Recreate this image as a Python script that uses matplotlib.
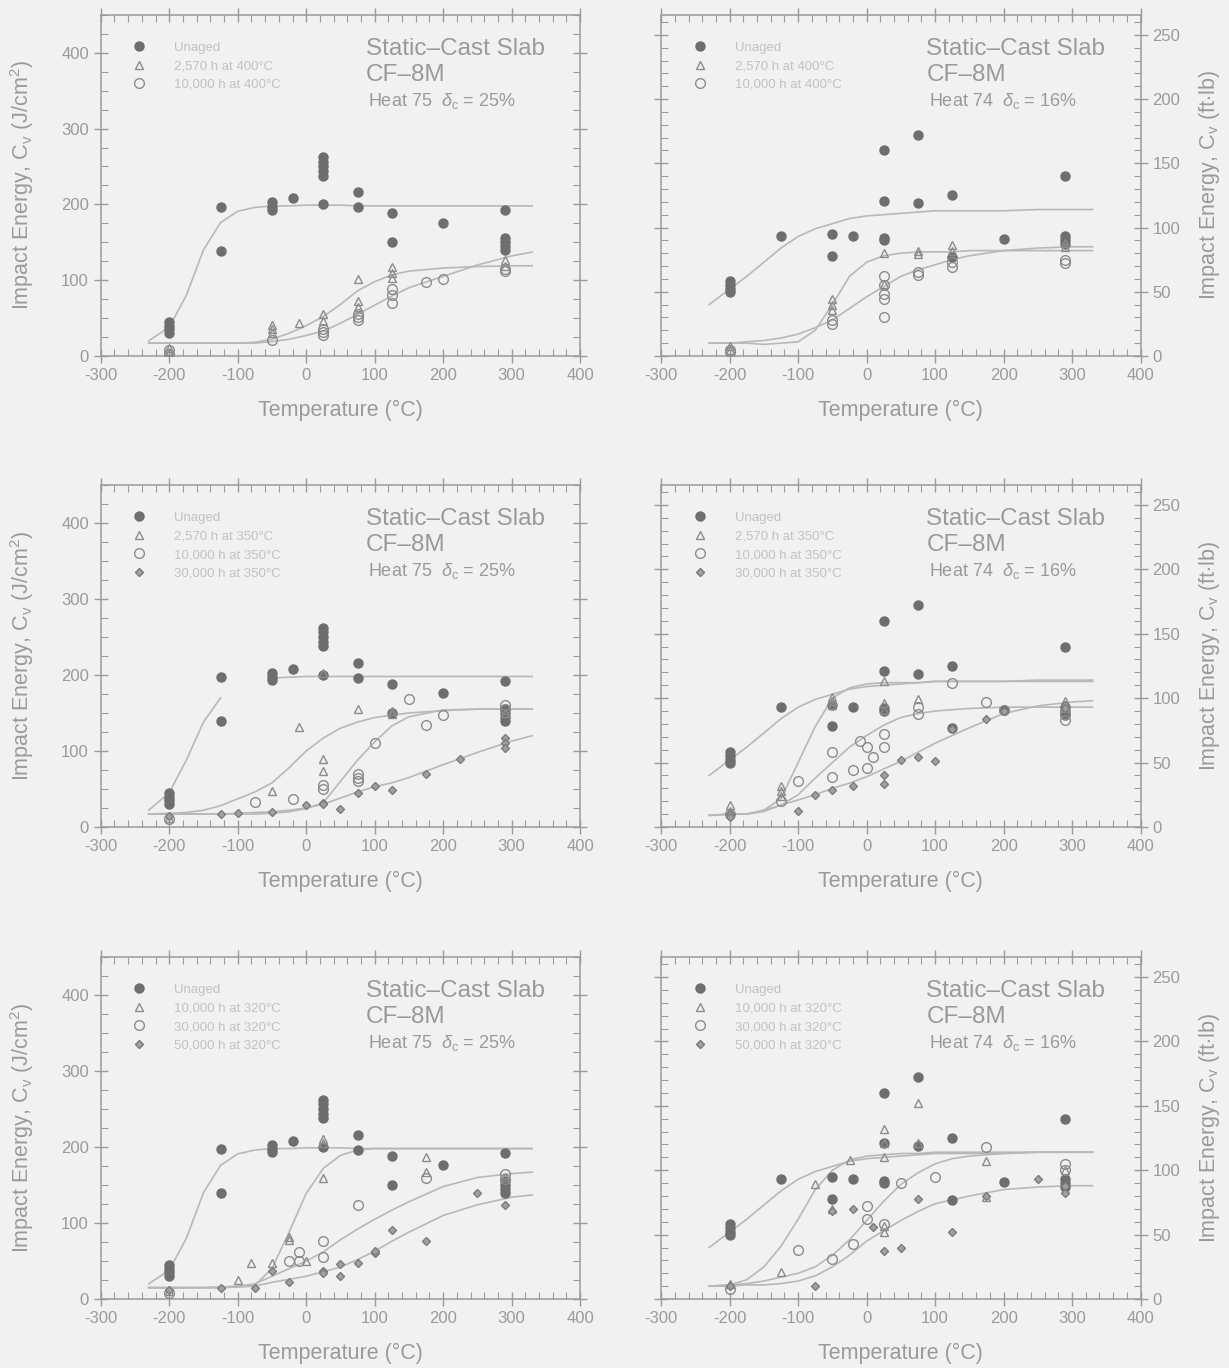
import numpy as np
import matplotlib
matplotlib.use('Agg')
import matplotlib.pyplot as plt
from matplotlib.ticker import MultipleLocator

plt.rcParams['font.family'] = ['Liberation Sans', 'DejaVu Sans']
plt.rcParams['axes.unicode_minus'] = False
plt.rcParams['mathtext.fontset'] = 'custom'
plt.rcParams['mathtext.rm'] = 'Liberation Sans'
plt.rcParams['mathtext.it'] = 'Liberation Sans:italic'

nan = np.nan

# ---- measured Charpy points ----
# Heat 75 in J/cm2, Heat 74 in ft-lb
H75_UNAGED_T = [-200, -200, -200, -200, -125, -125, -50, -50, -50, -20,
                25, 25, 25, 25, 25, 25, 75, 75, 125, 125, 200,
                290, 290, 290, 290, 290]
H75_UNAGED_V = [45, 40, 35, 30, 197, 139, 203, 197, 193, 208,
                262, 256, 250, 244, 238, 200, 216, 196, 188, 150, 176,
                192, 155, 150, 145, 140]

H74_UNAGED_T = [-200, -200, -200, -200, -125, -50, -50, -20,
                25, 25, 25, 25, 75, 75, 125, 125, 200,
                290, 290, 290, 290]
H74_UNAGED_V = [58, 55, 52, 50, 93, 95, 78, 93,
                160, 121, 92, 90, 172, 119, 125, 77, 91,
                140, 93, 90, 87]

# aged at 400 C
H75_400_2570_T = [-200, -200, -50, -50, -50, -10, 25, 25, 75, 75, 75, 125, 125, 125, 290, 290]
H75_400_2570_V = [10, 5, 41, 35, 30, 43, 56, 46, 101, 72, 65, 118, 110, 103, 127, 119]
H75_400_10000_T = [-200, -200, -50, 25, 25, 25, 75, 75, 75, 125, 125, 125, 175, 200, 290, 290]
H75_400_10000_V = [8, 3, 21, 36, 31, 28, 56, 51, 48, 88, 80, 70, 97, 101, 115, 112]

H74_400_2570_T = [-200, -200, -50, -50, -50, 25, 25, 75, 75, 125, 125, 290, 290]
H74_400_2570_V = [8, 5, 44, 40, 36, 80, 56, 82, 79, 86, 82, 88, 85]
H74_400_10000_T = [-200, -200, -50, -50, 25, 25, 25, 25, 25, 75, 75, 125, 125, 290, 290]
H74_400_10000_V = [5, 3, 28, 25, 62, 55, 48, 44, 30, 65, 63, 73, 69, 75, 72]

# aged at 350 C
H75_350_2570_T = [-200, -50, -10, 25, 25, 25, 75, 125, 125, 290]
H75_350_2570_V = [12, 47, 131, 202, 89, 73, 155, 152, 148, 150]
H75_350_10000_T = [-200, -75, -20, 25, 25, 75, 75, 75, 100, 150, 175, 200, 290, 290]
H75_350_10000_V = [10, 33, 37, 55, 50, 70, 65, 60, 111, 169, 134, 147, 160, 155]
H75_350_30000_T = [-200, -125, -100, -50, 0, 25, 25, 50, 75, 100, 125, 175, 225, 290, 290, 290]
H75_350_30000_V = [15, 17, 18, 20, 29, 32, 30, 23, 45, 54, 48, 70, 90, 117, 110, 104]

H74_350_2570_T = [-200, -200, -125, -125, -125, -50, -50, -50, 25, 25, 25, 75, 290, 290, 290]
H74_350_2570_V = [17, 12, 32, 28, 24, 101, 98, 95, 113, 96, 91, 99, 98, 95, 92]
H74_350_10000_T = [-200, -125, -100, -50, -50, -20, -10, 0, 0, 10, 25, 25, 75, 75, 125, 175, 200, 290, 290]
H74_350_10000_V = [10, 20, 36, 58, 39, 44, 67, 62, 46, 54, 72, 62, 93, 88, 112, 97, 91, 88, 83]
H74_350_30000_T = [-200, -200, -100, -75, -50, -20, 25, 25, 50, 75, 100, 125, 175, 200, 290, 290]
H74_350_30000_V = [10, 8, 12, 25, 29, 32, 40, 33, 52, 54, 51, 76, 84, 90, 95, 92]

# aged at 320 C
H75_320_10000_T = [-200, -100, -80, -50, -25, -25, 0, 25, 25, 25, 175, 175, 290]
H75_320_10000_V = [10, 25, 47, 48, 82, 78, 50, 210, 205, 159, 187, 167, 160]
H75_320_30000_T = [-200, -25, -10, -10, 25, 25, 75, 175, 290, 290]
H75_320_30000_V = [8, 50, 62, 50, 76, 55, 124, 159, 165, 158]
H75_320_50000_T = [-200, -125, -75, -50, -25, 25, 25, 50, 50, 75, 100, 100, 125, 175, 250, 290]
H75_320_50000_V = [12, 15, 14, 37, 22, 37, 34, 46, 30, 48, 61, 63, 91, 76, 139, 124]

H74_320_10000_T = [-200, -125, -75, -50, -25, 25, 25, 25, 25, 25, 75, 75, 175, 175, 290]
H74_320_10000_V = [12, 21, 89, 70, 108, 132, 121, 110, 57, 52, 152, 121, 107, 79, 100]
H74_320_30000_T = [-200, -100, -50, -20, 0, 0, 25, 50, 100, 175, 290, 290]
H74_320_30000_V = [8, 38, 31, 43, 72, 62, 58, 90, 95, 118, 105, 100]
H74_320_50000_T = [-200, -75, -50, -20, 10, 25, 50, 75, 125, 175, 250, 290, 290]
H74_320_50000_V = [10, 10, 68, 70, 56, 37, 40, 78, 52, 80, 93, 88, 82]

CURVE_T = [-230, -200, -175, -150, -125, -100, -75, -50, -25, 0,
           25, 50, 75, 100, 125, 150, 200, 250, 300, 330]

FIT_H75_UNAGED = [20, 38, 80, 140, 176, 191, 196, 198, 198, 199,
                  199, 199, 198, 198, 198, 198, 198, 198, 198, 198]
FIT_H75_UNAGED_350 = [22, 45, 88, 138, 170, nan, nan, 196, 197, 198,
                      198, 198, 198, 198, 198, 198, 198, 198, 198, 198]
FIT_H74_UNAGED = [40, 52, 62, 73, 84, 93, 99, 103, 107, 109,
                  110, 111, 112, 113, 113, 113, 113, 114, 114, 114]

FIT_H75_400_2570 = [17, 17, 17, 17, 17, 17, 18, 22, 30, 40,
                    52, 68, 86, 98, 107, 112, 116, 118, 119, 119]
FIT_H75_400_10000 = [17, 17, 17, 17, 17, 17, 17, 19, 22, 27,
                     33, 43, 55, 67, 79, 90, 105, 120, 132, 137]
FIT_H74_400_2570 = [10, 10, 10, 9, 10, 11, 20, 40, 62, 73,
                    78, 80, 81, 81, 81, 82, 82, 82, 82, 82]
FIT_H74_400_10000 = [10, 10, 11, 12, 14, 17, 22, 28, 37, 46,
                     54, 62, 67, 71, 75, 78, 82, 84, 85, 85]

FIT_H75_350_2570 = [17, 18, 19, 22, 28, 37, 46, 58, 78, 100,
                    117, 130, 138, 144, 147, 150, 153, 155, 155, 155]
FIT_H75_350_10000 = [17, 17, 17, 17, 17, 17, 17, 18, 20, 24,
                     32, 60, 88, 112, 133, 145, 154, 155, 155, 155]
FIT_H75_350_30000 = [17, 17, 17, 17, 17, 18, 19, 20, 22, 25,
                     30, 38, 46, 53, 58, 65, 82, 98, 113, 120]
FIT_H74_350_2570 = [9, 10, 10, 13, 22, 50, 78, 100, 108, 111,
                    112, 112, 112, 113, 113, 113, 113, 113, 113, 113]
FIT_H74_350_10000 = [9, 10, 10, 12, 17, 25, 38, 50, 62, 71,
                     79, 85, 88, 90, 91, 92, 93, 93, 93, 93]
FIT_H74_350_30000 = [9, 10, 10, 13, 17, 21, 25, 30, 34, 39,
                     45, 51, 58, 65, 71, 77, 88, 94, 97, 98]

FIT_H75_320_10000 = [15, 15, 15, 15, 15, 16, 18, 40, 88, 139,
                     172, 189, 196, 198, 198, 198, 198, 198, 198, 198]
FIT_H75_320_30000 = [15, 15, 15, 15, 16, 17, 20, 30, 40, 50,
                     62, 78, 92, 105, 117, 128, 148, 160, 165, 167]
FIT_H75_320_50000 = [15, 15, 15, 15, 15, 16, 17, 22, 26, 30,
                     36, 42, 52, 63, 76, 88, 110, 124, 134, 137]
FIT_H74_320_10000 = [10, 11, 15, 25, 41, 62, 85, 100, 108, 111,
                     112, 113, 113, 114, 114, 114, 114, 114, 114, 114]
FIT_H74_320_30000 = [10, 11, 12, 14, 17, 20, 25, 34, 46, 61,
                     76, 89, 98, 105, 109, 111, 113, 114, 114, 114]
FIT_H74_320_50000 = [10, 10, 11, 11, 12, 14, 18, 25, 34, 45,
                     53, 61, 68, 74, 77, 80, 85, 87, 88, 88]

BG = '#f1f1f1'
INK = '#9a9a9a'
LINE = '#b8b8b8'

STYLE = {
    'unaged': dict(marker='o', ms=6.5, mfc='#6e6e6e', mec='#6e6e6e', mew=1),
    'tri': dict(marker='^', ms=6, mfc='none', mec='#8c8c8c', mew=1),
    'circ': dict(marker='o', ms=7, mfc='none', mec='#8c8c8c', mew=1),
    'diam': dict(marker='D', ms=4.5, mfc='#a0a0a0', mec='#7c7c7c', mew=1),
}


def draw_panel(ax, heat_text, series, fits, right=False):
    ax.set_facecolor(BG)
    for vals in fits:
        ax.plot(CURVE_T, vals, color=LINE, lw=1.2, zorder=2)
    for t, v, key, label in series:
        ax.plot(t, v, linestyle='none', label=label, zorder=3, **STYLE[key])

    ax.set_xlim(-300, 400)
    ax.xaxis.set_major_locator(MultipleLocator(100))
    ax.xaxis.set_minor_locator(MultipleLocator(20))
    if right:
        ax.set_ylim(0, 265.5)
        ax.yaxis.set_major_locator(MultipleLocator(50))
        ax.yaxis.set_minor_locator(MultipleLocator(10))
    else:
        ax.set_ylim(0, 450)
        ax.yaxis.set_major_locator(MultipleLocator(100))
        ax.yaxis.set_minor_locator(MultipleLocator(25))

    ax.tick_params(which='major', direction='inout', length=10, width=1,
                   color=INK, labelcolor=INK, labelsize=12,
                   top=True, right=True)
    ax.tick_params(which='minor', direction='in', length=5, width=0.8,
                   color=INK, top=True, right=True)
    for sp in ax.spines.values():
        sp.set_color(INK)
        sp.set_linewidth(1.1)

    ax.set_xlabel('Temperature (°C)', fontsize=15.5, color=INK, labelpad=12)
    if right:
        ax.tick_params(axis='y', which='both', labelleft=False, labelright=True)
        ax.yaxis.set_label_position('right')
        ax.set_ylabel(r'Impact Energy, C$_\mathrm{v}$ (ft$\cdot$lb)',
                      fontsize=15.5, color=INK, labelpad=12)
    else:
        ax.set_ylabel(r'Impact Energy, C$_\mathrm{v}$ (J/cm$^\mathrm{2}$)',
                      fontsize=15.5, color=INK, labelpad=18)

    ax.text(0.553, 0.90, 'Static–Cast Slab', transform=ax.transAxes,
            fontsize=17.5, color=INK, va='center')
    ax.text(0.553, 0.825, 'CF–8M', transform=ax.transAxes,
            fontsize=17.5, color=INK, va='center')
    ax.text(0.558, 0.748, heat_text, transform=ax.transAxes,
            fontsize=13, color=INK, va='center')

    ax.legend(loc='upper left', bbox_to_anchor=(0.067, 0.922), frameon=False,
              fontsize=9.5, labelcolor='#c2c2c2', handlelength=1.0,
              handletextpad=2.15, labelspacing=0.48, borderpad=0,
              borderaxespad=0)


fig = plt.figure(figsize=(12.29, 13.68), dpi=100, facecolor=BG)

LEFT_X, RIGHT_X, WIDTH = 0.082, 0.538, 0.390
ROWS = [(0.7398, 0.2493), (0.3955, 0.250), (0.0504, 0.250)]

HEAT75 = r'Heat 75  $\delta_\mathrm{c}$ = 25%'
HEAT74 = r'Heat 74  $\delta_\mathrm{c}$ = 16%'

# 400 C ageing
ax = fig.add_axes([LEFT_X, ROWS[0][0], WIDTH, ROWS[0][1]])
draw_panel(ax, HEAT75, [
    (H75_UNAGED_T, H75_UNAGED_V, 'unaged', 'Unaged'),
    (H75_400_2570_T, H75_400_2570_V, 'tri', '2,570 h at 400°C'),
    (H75_400_10000_T, H75_400_10000_V, 'circ', '10,000 h at 400°C'),
], [FIT_H75_UNAGED, FIT_H75_400_2570, FIT_H75_400_10000])

ax = fig.add_axes([RIGHT_X, ROWS[0][0], WIDTH, ROWS[0][1]])
draw_panel(ax, HEAT74, [
    (H74_UNAGED_T, H74_UNAGED_V, 'unaged', 'Unaged'),
    (H74_400_2570_T, H74_400_2570_V, 'tri', '2,570 h at 400°C'),
    (H74_400_10000_T, H74_400_10000_V, 'circ', '10,000 h at 400°C'),
], [FIT_H74_UNAGED, FIT_H74_400_2570, FIT_H74_400_10000], right=True)

# 350 C ageing
ax = fig.add_axes([LEFT_X, ROWS[1][0], WIDTH, ROWS[1][1]])
draw_panel(ax, HEAT75, [
    (H75_UNAGED_T, H75_UNAGED_V, 'unaged', 'Unaged'),
    (H75_350_2570_T, H75_350_2570_V, 'tri', '2,570 h at 350°C'),
    (H75_350_10000_T, H75_350_10000_V, 'circ', '10,000 h at 350°C'),
    (H75_350_30000_T, H75_350_30000_V, 'diam', '30,000 h at 350°C'),
], [FIT_H75_UNAGED_350, FIT_H75_350_2570, FIT_H75_350_10000, FIT_H75_350_30000])

ax = fig.add_axes([RIGHT_X, ROWS[1][0], WIDTH, ROWS[1][1]])
draw_panel(ax, HEAT74, [
    (H74_UNAGED_T, H74_UNAGED_V, 'unaged', 'Unaged'),
    (H74_350_2570_T, H74_350_2570_V, 'tri', '2,570 h at 350°C'),
    (H74_350_10000_T, H74_350_10000_V, 'circ', '10,000 h at 350°C'),
    (H74_350_30000_T, H74_350_30000_V, 'diam', '30,000 h at 350°C'),
], [FIT_H74_UNAGED, FIT_H74_350_2570, FIT_H74_350_10000, FIT_H74_350_30000], right=True)

# 320 C ageing
ax = fig.add_axes([LEFT_X, ROWS[2][0], WIDTH, ROWS[2][1]])
draw_panel(ax, HEAT75, [
    (H75_UNAGED_T, H75_UNAGED_V, 'unaged', 'Unaged'),
    (H75_320_10000_T, H75_320_10000_V, 'tri', '10,000 h at 320°C'),
    (H75_320_30000_T, H75_320_30000_V, 'circ', '30,000 h at 320°C'),
    (H75_320_50000_T, H75_320_50000_V, 'diam', '50,000 h at 320°C'),
], [FIT_H75_UNAGED, FIT_H75_320_10000, FIT_H75_320_30000, FIT_H75_320_50000])

ax = fig.add_axes([RIGHT_X, ROWS[2][0], WIDTH, ROWS[2][1]])
draw_panel(ax, HEAT74, [
    (H74_UNAGED_T, H74_UNAGED_V, 'unaged', 'Unaged'),
    (H74_320_10000_T, H74_320_10000_V, 'tri', '10,000 h at 320°C'),
    (H74_320_30000_T, H74_320_30000_V, 'circ', '30,000 h at 320°C'),
    (H74_320_50000_T, H74_320_50000_V, 'diam', '50,000 h at 320°C'),
], [FIT_H74_UNAGED, FIT_H74_320_10000, FIT_H74_320_30000, FIT_H74_320_50000], right=True)

fig.savefig('out.png', dpi=100, facecolor=BG)
